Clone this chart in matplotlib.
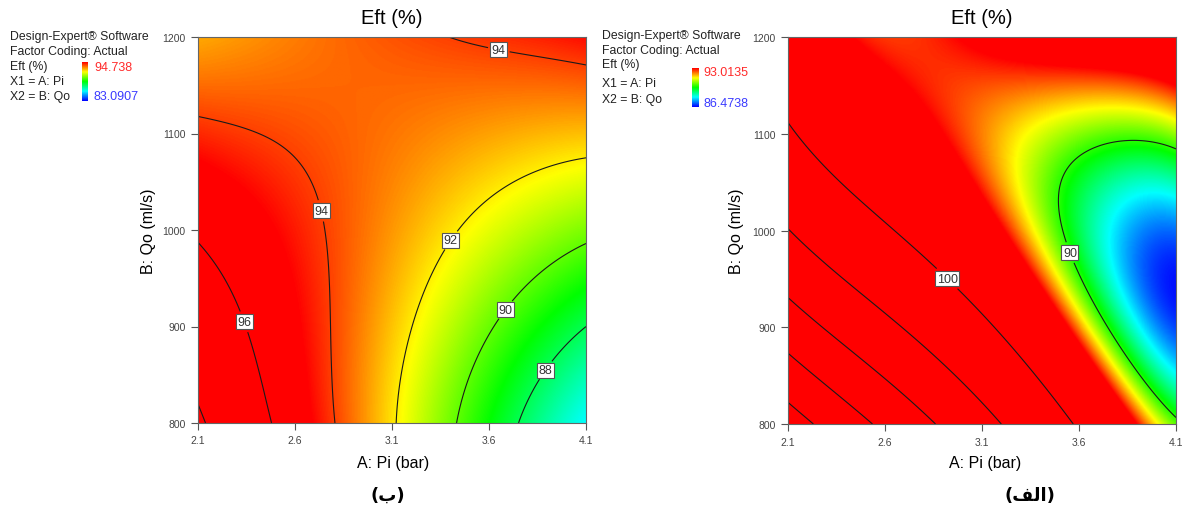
import numpy as np
import matplotlib
matplotlib.use("Agg")
import matplotlib.pyplot as plt
from matplotlib.colors import LinearSegmentedColormap

plt.rcParams["font.family"] = ["Liberation Sans", "DejaVu Sans"]

# ---------------- data: points (Pi, Qo, Eft) ----------------
# left panel (ب): points on the contour lines + a few colour readings
L_pi = [2.1, 2.145, 2.1, 2.325, 2.41, 2.468,
        2.1, 2.342, 2.514, 2.6, 2.669, 2.712, 2.771, 2.794,
        3.287, 3.45, 3.648, 4.1,
        3.115, 3.184, 3.287, 3.399, 3.545, 3.803, 4.1,
        3.442, 3.70, 3.80, 3.975, 4.1,
        3.768, 3.875, 4.1,
        2.1, 2.6, 3.0, 4.1, 3.1, 2.4, 4.1]
L_qo = [825, 800, 970, 904, 863, 800,
        1120, 1106, 1086, 1065, 1030, 996, 897, 800,
        1200, 1193, 1184, 1167,
        800, 863, 932, 990, 1029, 1060, 1076,
        800, 915, 946, 970, 984,
        800, 873, 894,
        1200, 1200, 1200, 800, 1000, 1000, 1200]
L_ef = [98, 98, 96, 96, 96, 96,
        94, 94, 94, 94, 94, 94, 94, 94,
        94, 94, 94, 94,
        92, 92, 92, 92, 92, 92, 92,
        90, 90, 90, 90, 90,
        88, 88, 88,
        92.8, 93.3, 93.6, 86.0, 93.0, 95.5, 94.5]

# right panel (الف)
R_pi = [4.1, 3.777, 3.605, 3.545, 3.533, 3.57, 3.63, 3.708, 3.763, 3.883, 4.1,
        2.1, 2.5, 2.9, 3.3, 3.65,
        2.1, 2.67, 3.23,
        2.1, 2.48, 2.86,
        2.1, 2.32, 2.54,
        2.1, 2.22,
        4.1, 4.1, 4.1, 4.1, 4.1, 4.1, 4.1, 4.1, 4.1,
        3.176, 3.26, 3.43, 3.78, 4.03, 3.26, 3.35, 3.52, 3.78, 4.03,
        2.65, 2.86, 3.05, 3.12, 3.21, 3.48, 3.75, 3.09, 3.6, 4.1,
        3.0, 3.4, 3.7]
R_qo = [1088, 1091, 1084, 1065, 1041, 1003, 983, 950, 898, 853, 805,
        1108, 1027, 946, 868, 800,
        1000, 900, 800,
        934, 867, 800,
        874, 837, 800,
        822, 800,
        1200, 1150, 1122, 1049, 1015, 950, 888, 864, 830,
        1105, 1122, 1129, 1133, 1122, 1071, 1015, 932, 864, 805,
        1200, 1151, 1093, 1058, 1001, 900, 798, 1169, 1159, 1128,
        1200, 1080, 1050]
R_ef = ([90] * 11 + [100] * 5 + [110] * 3 + [120] * 3 + [130] * 3 + [140] * 2 +
        [95, 93, 91.5, 88.1, 87, 86.5, 87, 88, 89.4] + [91.4] * 10 + [93] * 10 +
        [92.5, 90.5, 89.0])

L_range = [83.0907, 94.738]
R_range = [86.4738, 93.0135]
L_levels = [88, 90, 92, 94, 96, 98]
R_levels = [90, 100, 110, 120, 130, 140]
x_ticks = [2.1, 2.6, 3.1, 3.6, 4.1]
y_ticks = [800, 900, 1000, 1100, 1200]


def design(pi, qo, deg=4):
    a = np.asarray(pi, float) - 3.1
    b = (np.asarray(qo, float) - 1000) / 200
    cols = []
    for d in range(deg + 1):
        for i in range(d + 1):
            cols.append(a ** (d - i) * b ** i)
    return np.stack(cols, axis=-1)


def surface(pi, qo, ef, P, Q):
    c, *_ = np.linalg.lstsq(design(pi, qo), np.asarray(ef, float), rcond=None)
    return design(P, Q) @ c


cmap = LinearSegmentedColormap.from_list(
    "de", ["#0000ff", "#00ffff", "#00ff00", "#ffff00", "#ff0000"])
P, Q = np.meshgrid(np.linspace(2.1, 4.1, 400), np.linspace(800, 1200, 400))

W, H = 1183, 510
fig = plt.figure(figsize=(W / 100, H / 100), dpi=100)


def fx(px):
    return px / W


def fy(py):
    return 1 - py / H


panels = [
    dict(pi=L_pi, qo=L_qo, ef=L_ef, rng=L_range, lev=L_levels,
         rect=[fx(198), fy(424), fx(388), 386 / H],
         man=[(3.648, 1184), (2.694, 1018), (3.399, 990), (2.325, 904), (3.70, 915), (3.84, 862)],
         info_x=10, info_y=[37, 52, 67, 82, 97],
         cb=[81.5, 63, 6, 39], val_y=[68, 97], val_x=94,
         ylab_x=148, tag="(ب)", tag_x=388, lab_x=393),
    dict(pi=R_pi, qo=R_qo, ef=R_ef, rng=R_range, lev=R_levels,
         rect=[fx(788), fy(425), fx(388), 387 / H],
         man=[(2.90, 946), (3.63, 983)],
         info_x=602, info_y=[36, 51, 65, 84, 100],
         cb=[692, 69, 7, 39], val_y=[73, 104], val_x=703,
         ylab_x=737, tag="(\uFED2\uFEDF\uFE8D)", tag_x=1030, lab_x=985),
]

for p in panels:
    ax = fig.add_axes(p["rect"])
    Z = surface(p["pi"], p["qo"], p["ef"], P, Q)
    ax.imshow(Z, extent=[2.1, 4.1, 800, 1200], origin="lower", aspect="auto",
              cmap=cmap, vmin=p["rng"][0], vmax=p["rng"][1], interpolation="bilinear")
    cs = ax.contour(P, Q, Z, levels=p["lev"], colors="#1a1a1a", linewidths=0.8)
    labels = ax.clabel(cs, fmt="%d", fontsize=9, inline=True, inline_spacing=4,
                       manual=p["man"])
    for t in labels:
        t.set_rotation(0)
        t.set_color("#333333")
        t.set_bbox(dict(boxstyle="square,pad=0.12", fc="white", ec="#555555", lw=0.8))
    ax.set_xlim(2.1, 4.1)
    ax.set_ylim(800, 1200)
    ax.set_xticks(x_ticks)
    ax.set_xticklabels([f"{v:g}" for v in x_ticks])
    ax.set_yticks(y_ticks)
    ax.tick_params(direction="out", length=5, width=0.8, colors="#555555",
                   labelsize=7.5, labelcolor="#444444", pad=4)
    for s in ax.spines.values():
        s.set_color("#666666")
        s.set_linewidth(0.8)

    left = p["rect"][0] * W
    cx = left + 194
    fig.text(fx(cx), fy(18), "Eft (%)", ha="center", va="center", fontsize=14.5)
    fig.text(fx(p["lab_x"]), fy(464), "A: Pi (bar)", ha="center", va="center", fontsize=11.5)
    fig.text(fx(p["ylab_x"]), fy(231), "B: Qo (ml/s)", ha="center", va="center",
             fontsize=11.5, rotation=90)
    fig.text(fx(p["tag_x"]), fy(496), p["tag"], ha="center", va="center", fontsize=13,
             fontweight="bold", family=["DejaVu Sans"])

    info = ["Design-Expert\u00ae Software", "Factor Coding: Actual", "Eft (%)",
            "X1 = A: Pi", "X2 = B: Qo"]
    for txt, yy in zip(info, p["info_y"]):
        fig.text(fx(p["info_x"]), fy(yy), txt, ha="left", va="center", fontsize=8.8,
                 color="#222222")

    cbx, cby, cbw, cbh = p["cb"]
    cax = fig.add_axes([fx(cbx), fy(cby + cbh), fx(cbw), cbh / H])
    cax.imshow(np.linspace(1, 0, 100)[:, None], aspect="auto", cmap=cmap,
               vmin=0, vmax=1)
    cax.set_xticks([])
    cax.set_yticks([])
    for s in cax.spines.values():
        s.set_visible(False)
    fig.text(fx(p["val_x"]), fy(p["val_y"][0]), f"{p['rng'][1]:g}", ha="left",
             va="center", fontsize=9, color="#ff2a2a")
    fig.text(fx(p["val_x"]), fy(p["val_y"][1]), f"{p['rng'][0]:g}", ha="left",
             va="center", fontsize=9, color="#3a3aff")

fig.savefig("out.png", dpi=100)
